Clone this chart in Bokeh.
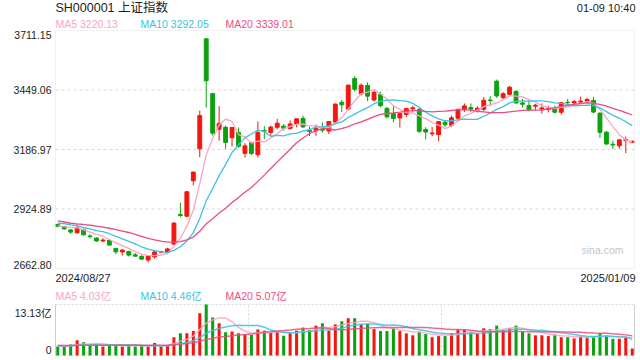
import numpy as np
from bokeh.plotting import figure
from bokeh.models import Label, BoxAnnotation, ColumnDataSource, Range1d
from bokeh.embed import file_html
from bokeh.resources import INLINE

# ---------------- data ----------------
title_text = "SH000001 上证指数"
stamp_text = "01-09 10:40"
watermark = "sina.com"

dates = [
    "2024/08/27", "2024/08/28", "2024/08/29", "2024/08/30",
    "2024/09/02", "2024/09/03", "2024/09/04", "2024/09/05", "2024/09/06",
    "2024/09/09", "2024/09/10", "2024/09/11", "2024/09/12", "2024/09/13",
    "2024/09/18", "2024/09/19", "2024/09/20",
    "2024/09/23", "2024/09/24", "2024/09/25", "2024/09/26", "2024/09/27",
    "2024/09/30",
    "2024/10/08", "2024/10/09", "2024/10/10", "2024/10/11",
    "2024/10/14", "2024/10/15", "2024/10/16", "2024/10/17", "2024/10/18",
    "2024/10/21", "2024/10/22", "2024/10/23", "2024/10/24", "2024/10/25",
    "2024/10/28", "2024/10/29", "2024/10/30", "2024/10/31",
    "2024/11/01",
    "2024/11/04", "2024/11/05", "2024/11/06", "2024/11/07", "2024/11/08",
    "2024/11/11", "2024/11/12", "2024/11/13", "2024/11/14", "2024/11/15",
    "2024/11/18", "2024/11/19", "2024/11/20", "2024/11/21", "2024/11/22",
    "2024/11/25", "2024/11/26", "2024/11/27", "2024/11/28", "2024/11/29",
    "2024/12/02", "2024/12/03", "2024/12/04", "2024/12/05", "2024/12/06",
    "2024/12/09", "2024/12/10", "2024/12/11", "2024/12/12", "2024/12/13",
    "2024/12/16", "2024/12/17", "2024/12/18", "2024/12/19", "2024/12/20",
    "2024/12/23", "2024/12/24", "2024/12/25", "2024/12/26", "2024/12/27",
    "2024/12/30", "2024/12/31",
    "2025/01/02", "2025/01/03",
    "2025/01/06", "2025/01/07", "2025/01/08", "2025/01/09",
]

opens = [
    2855.9, 2846.2, 2832.9, 2820.0, 2835.0, 2806.0, 2797.0, 2784.0, 2786.0, 2751.0,
    2736.0, 2738.0, 2723.0, 2716.0, 2700.0, 2714.0, 2735.0, 2735.0, 2770.0, 2901.0,
    2893.0, 3049.0, 3190.0, 3674.41, 3433.0, 3276.0, 3285.0, 3239.0, 3262.0, 3170.0,
    3218.0, 3164.0, 3270.0, 3262.0, 3285.0, 3290.0, 3280.0, 3298.0, 3324.0, 3272.0,
    3270.0, 3276.0, 3268.0, 3308.0, 3395.0, 3365.0, 3500.0, 3432.0, 3469.0, 3405.0,
    3429.0, 3368.0, 3345.0, 3326.0, 3341.0, 3366.0, 3363.0, 3275.0, 3256.0, 3253.0,
    3307.0, 3293.0, 3325.0, 3364.0, 3372.0, 3360.0, 3364.0, 3405.0, 3488.0, 3415.0,
    3430.0, 3443.0, 3392.0, 3381.0, 3378.0, 3365.0, 3364.0, 3368.0, 3351.0, 3395.0,
    3392.0, 3396.0, 3400.0, 3403.0, 3347.0, 3263.0, 3210.0, 3203.0, 3226.0, 3219.0,
]
highs = [
    2859.5, 2849.1, 2836.3, 2858.0, 2838.0, 2814.0, 2800.0, 2796.0, 2792.0, 2752.0,
    2747.0, 2741.0, 2731.0, 2722.0, 2720.0, 2742.0, 2740.0, 2754.0, 2865.0, 2952.0,
    3002.0, 3089.0, 3358.6, 3674.5, 3437.0, 3378.0, 3292.0, 3286.0, 3284.0, 3215.0,
    3221.0, 3310.0, 3290.0, 3291.0, 3322.0, 3299.0, 3315.0, 3323.0, 3336.0, 3287.0,
    3297.0, 3306.0, 3312.0, 3389.0, 3405.0, 3472.0, 3509.8, 3478.0, 3483.0, 3444.0,
    3441.0, 3375.0, 3382.0, 3348.0, 3370.0, 3380.0, 3373.0, 3285.0, 3286.0, 3312.0,
    3316.0, 3336.0, 3366.0, 3390.0, 3390.0, 3378.0, 3418.0, 3422.0, 3495.0, 3440.0,
    3467.0, 3448.0, 3410.0, 3403.0, 3388.0, 3390.0, 3380.0, 3380.0, 3396.0, 3410.0,
    3405.0, 3420.0, 3415.0, 3418.0, 3351.0, 3268.0, 3226.0, 3231.0, 3244.0, 3228.0,
]
lows = [
    2843.7, 2832.9, 2815.4, 2817.0, 2808.0, 2795.0, 2780.0, 2779.0, 2765.0, 2726.0,
    2720.0, 2716.0, 2716.0, 2702.0, 2689.7, 2706.0, 2730.0, 2730.0, 2768.0, 2889.0,
    2889.0, 3029.0, 3153.0, 3371.7, 3249.0, 3226.0, 3190.0, 3200.0, 3195.0, 3152.0,
    3163.0, 3152.0, 3232.0, 3246.0, 3276.0, 3270.0, 3275.0, 3285.0, 3282.0, 3246.0,
    3247.0, 3262.0, 3255.0, 3303.0, 3352.0, 3360.0, 3443.0, 3425.0, 3400.0, 3398.0,
    3373.0, 3324.0, 3307.0, 3284.0, 3330.0, 3350.0, 3260.0, 3231.0, 3246.0, 3224.0,
    3286.0, 3285.0, 3318.0, 3352.0, 3353.0, 3350.0, 3356.0, 3380.0, 3415.0, 3405.0,
    3422.0, 3389.0, 3372.0, 3355.0, 3360.0, 3345.0, 3350.0, 3346.0, 3340.0, 3380.0,
    3383.0, 3390.0, 3390.0, 3347.0, 3238.0, 3206.0, 3189.0, 3190.0, 3171.0, 3215.0,
]
closes = [
    2848.77, 2837.43, 2823.11, 2842.21, 2811.04, 2802.98, 2784.28, 2788.19, 2765.81, 2736.49,
    2744.19, 2721.80, 2717.12, 2704.09, 2717.28, 2736.02, 2736.81, 2748.92, 2863.13, 2896.31,
    3000.95, 3087.53, 3336.50, 3489.78, 3258.86, 3301.93, 3217.74, 3284.32, 3201.29, 3202.95,
    3169.38, 3261.56, 3268.11, 3285.87, 3302.80, 3280.26, 3299.70, 3322.20, 3286.41, 3266.24,
    3279.82, 3272.01, 3310.21, 3386.99, 3383.81, 3470.66, 3452.30, 3470.07, 3421.97, 3439.28,
    3379.84, 3330.73, 3323.85, 3346.01, 3367.99, 3370.40, 3267.19, 3263.76, 3259.76, 3309.78,
    3295.70, 3326.46, 3363.98, 3378.81, 3364.65, 3368.86, 3404.08, 3402.53, 3422.66, 3432.49,
    3461.50, 3391.88, 3386.33, 3361.49, 3382.21, 3370.03, 3368.07, 3351.26, 3393.53, 3393.35,
    3398.08, 3400.14, 3407.33, 3351.76, 3262.56, 3211.43, 3206.92, 3229.64, 3230.17, 3222.49,
]
# volume, in 亿
volumes = [
    2.3, 2.3, 2.8, 3.9, 3.4, 2.6, 2.8, 2.3, 2.6, 2.6,
    2.3, 2.6, 2.3, 2.6, 2.3, 3.2, 2.3, 2.6, 4.7, 5.7,
    5.7, 6.3, 10.9, 13.13, 9.8, 8.3, 6.0, 6.2, 5.7, 5.4,
    5.3, 6.7, 6.4, 5.8, 6.3, 5.1, 5.8, 6.4, 7.2, 6.6,
    7.7, 8.3, 6.4, 8.0, 8.8, 9.6, 9.6, 8.0, 8.2, 6.8,
    6.3, 6.3, 7.1, 6.3, 5.7, 5.2, 6.1, 5.5, 4.7, 5.0,
    5.0, 5.7, 6.6, 6.6, 6.1, 5.6, 7.0, 6.8, 7.7, 6.6,
    7.1, 7.7, 6.1, 5.7, 5.2, 5.2, 5.0, 5.4, 4.7, 4.7,
    4.4, 4.9, 4.6, 4.9, 5.65, 5.2, 4.3, 4.3, 4.55, 1.8,
]
# the 19 sessions before the first visible one (feed the moving averages)
prior_closes = [
    2938.75, 2932.39, 2905.34, 2860.70, 2867.28, 2869.90, 2869.83, 2862.19, 2858.20, 2867.95,
    2850.65, 2877.36, 2879.43, 2893.67, 2866.66, 2856.58, 2838.15, 2854.37, 2855.52,
]
prior_volumes = [
    3.0, 3.1, 2.8, 2.7, 2.5, 2.6, 2.5, 2.5, 2.6, 2.6,
    2.5, 2.6, 2.7, 2.8, 2.6, 2.5, 2.5, 2.5, 2.4,
]
ma_periods = [5, 10, 20]
price_ticks = [2662.80, 2924.89, 3186.97, 3449.06, 3711.15]
price_tick_labels = ["2662.80", "2924.89", "3186.97", "3449.06", "3711.15"]
vol_max = 13.13
vol_tick_labels = ["0", "13.13亿"]

# ---------------- style / layout ----------------
RED = "#f2170e"
GREEN = "#0ba10f"
MA_COLORS = ["#f7a6c3", "#3cc2e3", "#ea4d80"]
FONT = "Liberation Sans, Noto Sans CJK SC"
TXT = "#1c1c1c"
FRAME = "#cccccc"
GRID = "#d9d9d9"
W, H = 640, 360
# panel boxes in pixels of the canvas (from top-left)
PX0, PX1 = 55, 634          # horizontal extent of both panels
PY0, PY1 = 30, 268          # price panel top / bottom
VY0, VY1 = 304, 355         # volume panel top / bottom


def sma(prior, vals, n):
    a = np.array(list(prior) + list(vals), dtype=float)
    k = len(prior)
    return [float(a[i - n + 1:i + 1].mean()) for i in range(k, len(a))]


def extend(lo, hi, p_lo, p_hi, size):
    # data range lo..hi sits between pixels p_lo..p_hi; return range for 0..size
    per = (hi - lo) / (p_hi - p_lo)
    return lo - p_lo * per, hi + (size - p_hi) * per


n_days = len(closes)
xs = list(range(n_days))
x_lo, x_hi = -0.35, n_days - 1 + 0.35
colors = [RED if c >= o else GREEN for o, c in zip(opens, closes)]
src = ColumnDataSource(dict(
    x=xs, date=dates, o=opens, h=highs, l=lows, c=closes,
    top=[max(o, c) for o, c in zip(opens, closes)],
    bot=[min(o, c) for o, c in zip(opens, closes)],
    color=colors, vol=volumes,
))

xr0, xr1 = extend(x_lo, x_hi, PX0, PX1, W)
# y measured from bottom of canvas
yr0, yr1 = extend(price_ticks[0], price_ticks[-1], H - PY1, H - PY0, H)
vr0, vr1 = extend(0, vol_max, H - VY1, H - VY0, H)

p = figure(width=W, height=H, output_backend="svg", toolbar_location=None,
           x_range=Range1d(xr0, xr1), y_range=Range1d(yr0, yr1),
           x_axis_location=None, y_axis_location=None, title=None,
           min_border_left=0, min_border_right=0, min_border_top=0, min_border_bottom=0,
           background_fill_color="white", border_fill_color="white",
           outline_line_color=None)
p.extra_y_ranges = {"vol": Range1d(vr0, vr1)}
p.xgrid.visible = False
p.ygrid.visible = False

# ---- price panel frame and grid
mid = price_ticks[1:-1]
p.multi_line(xs=[[x_lo, x_hi]] * len(mid), ys=[[t, t] for t in mid],
             line_color=GRID, line_dash="3 3", line_width=1)
p.add_layout(BoxAnnotation(left=x_lo, right=x_hi, bottom=price_ticks[0], top=price_ticks[-1],
                           fill_alpha=0, line_color=FRAME, line_width=1))

# ---- candles
p.segment(x0="x", y0="l", x1="x", y1="h", line_color="color", line_width=1, source=src)
p.vbar(x="x", width=0.6, top="top", bottom="bot", fill_color="color",
       line_color="color", line_width=1, source=src)

price_ma = [sma(prior_closes, closes, n) for n in ma_periods]
for ma, col in zip(price_ma, MA_COLORS):
    p.line(xs, ma, line_color=col, line_width=1.3)

# ---- volume panel frame and grid
thirds = [x_lo + (x_hi - x_lo) / 3, x_lo + 2 * (x_hi - x_lo) / 3]
p.multi_line(xs=[[x_lo, x_hi], [x_lo, x_hi]], ys=[[0, 0], [vol_max, vol_max]],
             line_color=GRID, line_dash="2 2", line_width=1, y_range_name="vol")
p.multi_line(xs=[[t, t] for t in thirds], ys=[[0, vol_max]] * 2,
             line_color=GRID, line_dash="2 2", line_width=1, y_range_name="vol")
p.multi_line(xs=[[x_lo, x_lo], [x_hi, x_hi]], ys=[[0, vol_max]] * 2,
             line_color=FRAME, line_width=1, y_range_name="vol")

p.vbar(x="x", width=0.47, top="vol", bottom=0, fill_color="color", line_color=None,
       source=src, y_range_name="vol")
vol_ma = [sma(prior_volumes, volumes, n) for n in ma_periods]
for ma, col in zip(vol_ma, MA_COLORS):
    p.line(xs, ma, line_color=col, line_width=1.5, line_alpha=0.85, y_range_name="vol")


# ---- texts (screen units: from the canvas' lower left)
def lab(x, y, text, size, color=TXT, align="left", base="middle", **kw):
    p.add_layout(Label(x=x, y=y, text=text, text_font=FONT, text_font_size=size,
                       text_color=color, text_align=align, text_baseline=base, **kw))


lab(PX0, H - 7, title_text, "12.5px", x_units="screen", y_units="screen")
lab(PX1 + 1, H - 7, stamp_text, "11px", align="right", x_units="screen", y_units="screen")
for k, (n, ma, col) in enumerate(zip(ma_periods, price_ma, MA_COLORS)):
    lab(PX0 + 85 * k, H - 23, f"MA{n} {ma[-1]:.2f}", "10.5px", color=col,
        x_units="screen", y_units="screen")
for i, (t, txt) in enumerate(zip(price_ticks, price_tick_labels)):
    base = "bottom" if i == 0 else ("top" if i == len(price_ticks) - 1 else "middle")
    lab(PX0 - 4, t, txt, "10.5px", align="right", base=base,
        x_units="screen", y_units="data")
lab(PX0, H - 277, dates[0], "11px", x_units="screen", y_units="screen")
lab(PX1 + 1, H - 277, dates[-1], "11px", align="right", x_units="screen", y_units="screen")
lab(PX1 - 11, H - 249, watermark, "10.5px", color="#c4c4c4", align="right",
    x_units="screen", y_units="screen")

for k, (n, ma, col) in enumerate(zip(ma_periods, vol_ma, MA_COLORS)):
    lab(PX0 + 85 * k, H - 295, f"MA{n} {ma[-1]:.2f}亿", "10.5px", color=col,
        x_units="screen", y_units="screen")
lab(PX0 - 4, 0, vol_tick_labels[0], "10.5px", align="right", base="bottom",
    x_units="screen", y_units="data", y_range_name="vol", y_offset=1.5)
lab(PX0 - 4, vol_max, vol_tick_labels[1], "10.5px", align="right", base="top",
    x_units="screen", y_units="data", y_range_name="vol", y_offset=-2.5)

open("out.html", "w").write(file_html(p, INLINE))
